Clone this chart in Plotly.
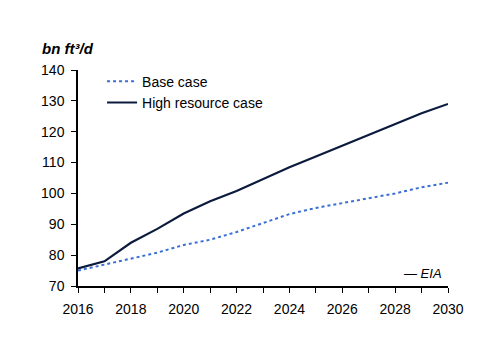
import plotly.graph_objects as go

years = list(range(2016, 2031))
base_case = [75.0, 77.0, 79.0, 80.8, 83.3, 85.0, 87.5, 90.5, 93.3, 95.3, 96.8, 98.5, 100.0, 102.0, 103.5]
high_resource = [75.7, 78.0, 84.0, 88.5, 93.5, 97.5, 100.8, 104.7, 108.5, 112.0, 115.5, 119.0, 122.5, 126.0, 129.0]
y_ticks = [70, 80, 90, 100, 110, 120, 130, 140]
x_ticktext = [str(y) if y % 2 == 0 else "" for y in years]

font = "Liberation Sans, Arial, sans-serif"

fig = go.Figure()
fig.add_trace(go.Scatter(x=years, y=base_case, mode="lines", name="Base case",
                         line=dict(color="#3b6fd4", width=2, dash="dot")))
fig.add_trace(go.Scatter(x=years, y=high_resource, mode="lines", name="High resource case",
                         line=dict(color="#0b1a3d", width=2.2)))

fig.update_layout(
    width=500, height=353,
    margin=dict(l=78, r=52, t=70, b=67),
    paper_bgcolor="white", plot_bgcolor="white",
    font=dict(family=font, size=14, color="black"),
    showlegend=True,
    legend=dict(x=0.065, y=1.02, xanchor="left", yanchor="top",
                bgcolor="rgba(0,0,0,0)", font=dict(size=14),
                itemwidth=30, tracegroupgap=0),
    xaxis=dict(range=[2016, 2030], tickvals=years, ticktext=x_ticktext,
               showgrid=False, zeroline=False, showline=True, linecolor="black",
               linewidth=1.5, ticks="outside", ticklen=5, tickcolor="black",
               tickfont=dict(size=14), ticklabelstandoff=4),
    yaxis=dict(range=[70, 140], tickvals=y_ticks,
               showgrid=False, zeroline=False, showline=True, linecolor="black",
               linewidth=1.5, ticks="outside", ticklen=5, tickcolor="black",
               tickfont=dict(size=14), ticklabelstandoff=4),
    annotations=[
        dict(text="<b><i>bn ft³/d</i></b>", x=(40 - 78) / 370, y=(286 - 48) / 216,
             xref="paper", yref="paper", xanchor="left", yanchor="middle",
             showarrow=False, font=dict(size=15)),
        dict(text="<i>— EIA</i>", x=(444 - 78) / 370, y=(286 - 273) / 216,
             xref="paper", yref="paper", xanchor="right", yanchor="middle",
             showarrow=False, font=dict(size=13)),
    ],
)

fig.write_html("out.html")
